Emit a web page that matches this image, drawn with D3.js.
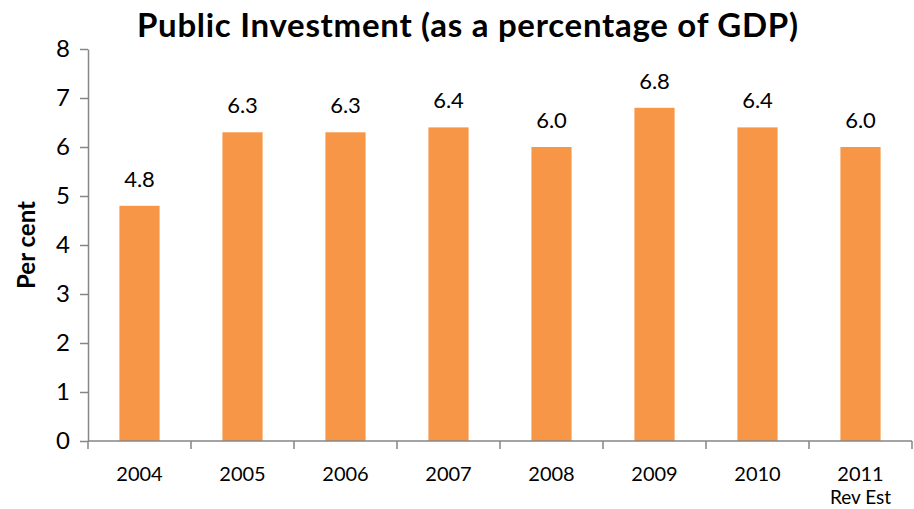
<!DOCTYPE html>
<html>
<head>
<meta charset="utf-8">
<script src="https://cdn.jsdelivr.net/npm/d3@7"></script>
<style>
  html, body { margin: 0; padding: 0; background: #fff; }
  svg { display: block; font-family: Lato, "Open Sans", sans-serif; }
</style>
</head>
<body>
<svg id="chart" width="914" height="509"></svg>
<script>
const years = ["2004", "2005", "2006", "2007", "2008", "2009", "2010", "2011"];
const subLabels = ["", "", "", "", "", "", "", "Rev Est"];
const values = [4.8, 6.3, 6.3, 6.4, 6.0, 6.8, 6.4, 6.0];
const yTicks = [0, 1, 2, 3, 4, 5, 6, 7, 8];

const svg = d3.select("#chart");
const margin = { left: 88, right: 2, top: 49, bottom: 68 };
const W = 914, H = 509;

const x = d3.scaleBand().domain(years).range([margin.left, W - margin.right]).paddingInner(0.61).paddingOuter(0.305);
const xOuter = d3.scaleBand().domain(years).range([margin.left, W - margin.right]);
const y = d3.scaleLinear().domain([0, 8]).range([H - margin.bottom, margin.top]);

const axisColor = "#868686";

// Bars
svg.append("g").selectAll("rect").data(values).join("rect")
  .attr("x", (d, i) => x(years[i]))
  .attr("y", d => y(d))
  .attr("width", x.bandwidth())
  .attr("height", d => y(0) - y(d))
  .attr("fill", "#F79646");

// Value labels
svg.append("g").selectAll("text").data(values).join("text")
  .attr("x", (d, i) => x(years[i]) + x.bandwidth() / 2)
  .attr("y", d => y(d) - 19)
  .attr("text-anchor", "middle")
  .attr("font-size", 22)
  .attr("fill", "#000")
  .text(d => d.toFixed(1));

// Y axis
const yAxis = svg.append("g").attr("transform", `translate(${margin.left},0)`)
  .call(d3.axisLeft(y).tickValues(yTicks).tickSize(8).tickSizeOuter(0).tickPadding(10).tickFormat(d3.format("d")));
yAxis.select(".domain").attr("stroke", axisColor).attr("stroke-width", 1.5);
yAxis.selectAll(".tick line").attr("stroke", axisColor).attr("stroke-width", 1.5);
yAxis.selectAll(".tick text").attr("font-size", 24).attr("fill", "#000").attr("font-family", "Lato, sans-serif");

// X axis: ticks at category boundaries
const xg = svg.append("g").attr("transform", `translate(0,${y(0)})`);
xg.append("line").attr("x1", margin.left).attr("x2", W - margin.right)
  .attr("stroke", axisColor).attr("stroke-width", 1.5);
const bounds = years.map(d => xOuter(d)).concat([xOuter(years[years.length - 1]) + xOuter.bandwidth()]);
xg.selectAll("line.tk").data(bounds).join("line").attr("class", "tk")
  .attr("x1", d => d).attr("x2", d => d).attr("y1", 0).attr("y2", 8)
  .attr("stroke", axisColor).attr("stroke-width", 1.5);
xg.selectAll("text.yr").data(years).join("text").attr("class", "yr")
  .attr("x", d => xOuter(d) + xOuter.bandwidth() / 2)
  .attr("y", 40)
  .attr("text-anchor", "middle").attr("font-size", 20).attr("fill", "#000")
  .text(d => d);
xg.selectAll("text.sub").data(years).join("text").attr("class", "sub")
  .attr("x", d => xOuter(d) + xOuter.bandwidth() / 2)
  .attr("y", 63)
  .attr("text-anchor", "middle").attr("font-size", 19).attr("fill", "#000")
  .text((d, i) => subLabels[i]);

// Y axis title
svg.append("text")
  .attr("transform", `translate(35,${(y(0) + y(8)) / 2}) rotate(-90)`)
  .attr("text-anchor", "middle").attr("font-size", 24).attr("font-weight", "bold")
  .text("Per cent");

// Chart title
svg.append("text")
  .attr("x", 467.5).attr("y", 37)
  .attr("text-anchor", "middle").attr("font-size", 33).attr("font-weight", "bold")
  .attr("textLength", 661).attr("lengthAdjust", "spacing")
  .text("Public Investment (as a percentage of GDP)");
</script>
</body>
</html>
